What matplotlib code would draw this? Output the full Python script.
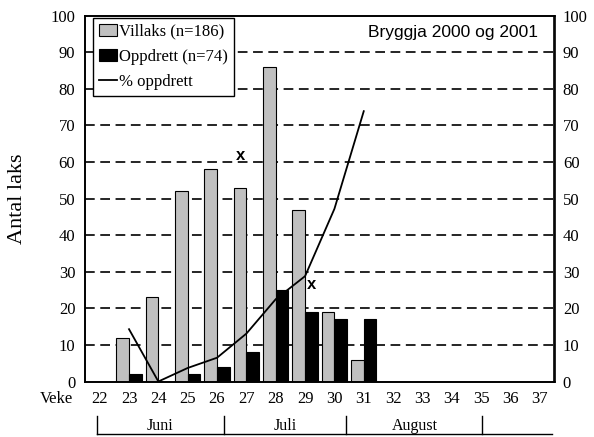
import matplotlib
matplotlib.use("Agg")
import matplotlib.pyplot as plt
from matplotlib.transforms import blended_transform_factory
from matplotlib.patches import Patch
from matplotlib.lines import Line2D

# ---- data ----
weeks = list(range(22, 38))
villaks = [0, 12, 23, 52, 58, 53, 86, 47, 19, 6, 0, 0, 0, 0, 0, 0]
oppdrett = [0, 2, 0, 2, 4, 8, 25, 19, 17, 17, 0, 0, 0, 0, 0, 0]
pct_weeks = [23, 24, 25, 26, 27, 28, 29, 30, 31]
pct_oppdrett = [14.3, 0, 3.7, 6.5, 13.1, 22.5, 28.8, 47.2, 73.9]
x_marks = [(26.785, 61.7), (29.215, 26.4)]
months = ["Juni", "Juli", "August"]
month_bounds = [21.9, 26.24, 30.41, 35.04]
month_end = 37.4
yticks = list(range(0, 101, 10))

plt.rcParams['font.family'] = ['Liberation Serif', 'DejaVu Serif']
plt.rcParams['lines.scale_dashes'] = False

fig = plt.figure(figsize=(5.94, 4.37), dpi=100)
ax = fig.add_axes([85 / 594, 1 - 381.5 / 437, (554.5 - 85) / 594, (381.5 - 15.7) / 437])

ax.set_xlim(21.5, 37.5)
ax.set_ylim(0, 100)

# grid lines
for v in yticks[1:-1]:
    ax.axhline(v, color='black', lw=1.2, dashes=(7, 4), zorder=1)

w = 0.43
ax.bar([x - w / 2 for x in weeks], villaks, width=w, color='#C0C0C0',
       edgecolor='black', linewidth=0.8, zorder=2)
ax.bar([x + w / 2 for x in weeks], oppdrett, width=w, color='black',
       edgecolor='black', linewidth=0.8, zorder=2)
ax.plot(pct_weeks, pct_oppdrett, color='black', lw=1.3, zorder=3)

for (xm, ym) in x_marks:
    ax.text(xm, ym, 'x', family='Liberation Sans', fontweight='bold', fontsize=12,
            ha='center', va='center', zorder=4)

ax.text(0.965, 0.955, 'Bryggja 2000 og 2001', transform=ax.transAxes,
        family='Liberation Sans', fontsize=12.5, ha='right', va='center')

ax.set_xticks(weeks)
ax.set_xticklabels([str(wk) for wk in weeks], fontsize=12)
ax.tick_params(axis='x', length=0, pad=7)
ax.set_yticks(yticks)
ax.set_yticklabels([str(v) for v in yticks], fontsize=12)
ax.tick_params(axis='y', length=0, pad=7)
for s in ax.spines.values():
    s.set_linewidth(1.2)
    s.set_color('black')

ax2 = ax.twinx()
ax2.set_ylim(0, 100)
ax2.set_yticks(yticks)
ax2.set_yticklabels([str(v) for v in yticks], fontsize=12)
ax2.tick_params(axis='y', length=0, pad=6)
for s in ax2.spines.values():
    s.set_linewidth(1.2)

ax.set_ylabel('Antal laks', fontsize=16, labelpad=17)

fig.text(56 / 594, 1 - 399 / 437, 'Veke', fontsize=12, ha='center', va='center')

# month bracket
tr = blended_transform_factory(ax.transData, fig.transFigure)
y_line = 1 - 434 / 437
y_top = 1 - 416 / 437
ax.plot([month_bounds[0], month_end], [y_line, y_line], color='black', lw=1,
        transform=tr, clip_on=False)
for b in month_bounds:
    ax.plot([b, b], [y_line, y_top], color='black', lw=1, transform=tr, clip_on=False)
for i, m in enumerate(months):
    xc = (month_bounds[i] + month_bounds[i + 1]) / 2
    ax.text(xc, 1 - 426 / 437, m, fontsize=11.5, ha='center', va='center', transform=tr)

handles = [Patch(facecolor='#C0C0C0', edgecolor='black', linewidth=0.8),
           Patch(facecolor='black', edgecolor='black', linewidth=0.8),
           Line2D([0], [0], color='black', lw=1.3)]
leg = ax.legend(handles, ['Villaks (n=186)', 'Oppdrett (n=74)', '% oppdrett'],
                loc='upper left', bbox_to_anchor=(0.017, 0.994), fontsize=12,
                frameon=True, fancybox=False, framealpha=1, edgecolor='black',
                handlelength=1.1, handleheight=0.75, handletextpad=0.1,
                borderpad=0.35, labelspacing=0.55, borderaxespad=0)
leg.get_frame().set_linewidth(1.0)
leg.set_zorder(5)

fig.savefig('out.png', dpi=100)
